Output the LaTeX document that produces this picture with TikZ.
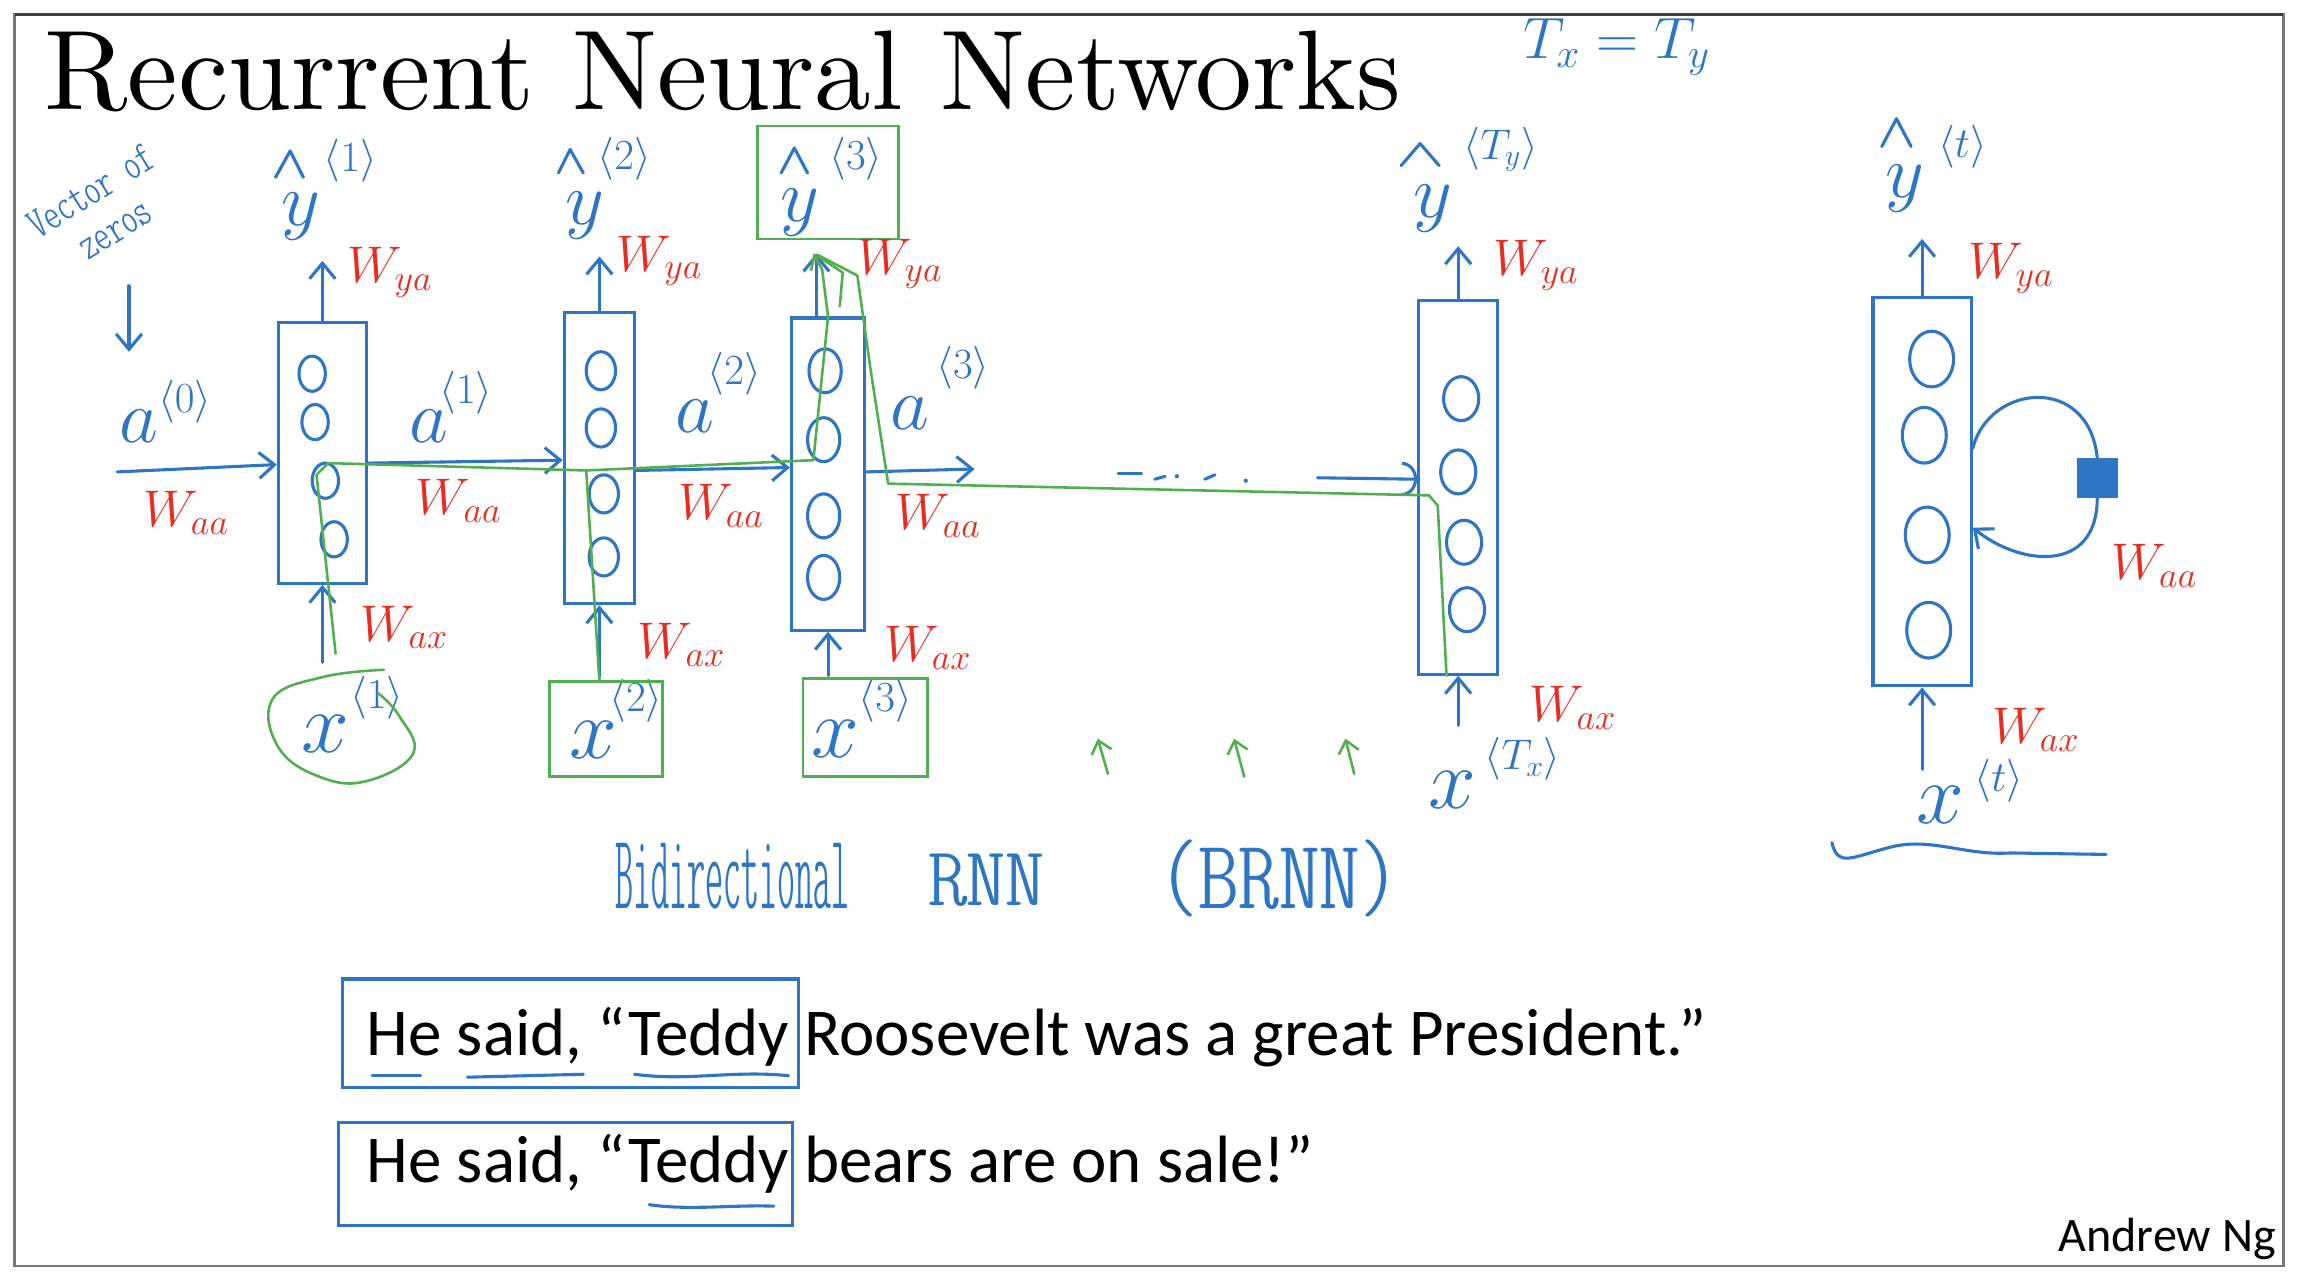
\RequirePackage{fix-cm}
\documentclass[tikz,border=0pt]{standalone}
\usepackage{fontspec}
\usepackage{graphicx}
\usetikzlibrary{arrows.meta}
\newfontfamily\calibri{Carlito}
\newfontfamily\lightfont{lmmonoltcond10-regular}[Extension=.otf]
\newfontfamily\titlefont{lmroman10-regular}[Extension=.otf]
\definecolor{hb}{RGB}{46,117,196}
\definecolor{hr}{RGB}{232,44,32}
\definecolor{hg}{RGB}{80,176,80}
\definecolor{fr}{RGB}{120,120,120}
\newcommand\BaseM{\fontsize{44}{46}\selectfont}
\newcommand\BaseX{\fontsize{50}{52}\selectfont}
\newcommand\SupM{\fontsize{25}{27}\selectfont}
\newcommand\WtM{\fontsize{30}{32}\selectfont}
\begin{document}
\begin{tikzpicture}[x=0.03cm,y=-0.03cm,
  hand/.style={draw=hb, line width=1.8pt, line cap=round, line join=round},
  gline/.style={draw=hg, line width=1.5pt, line cap=round, line join=round},
  arr/.style={hand, -{Straight Barb[length=9pt,width=15pt,line width=1.8pt]}},
  garr/.style={gline, -{Straight Barb[length=7pt,width=12pt,line width=1.5pt]}},
  cell/.style={draw=hb, line width=1.8pt, inner sep=0pt, rectangle},
  gbox/.style={draw=hg, line width=1.5pt, inner sep=0pt, rectangle},
  base/.style={text=hb, inner sep=0pt, font=\BaseM},
  basex/.style={text=hb, inner sep=0pt, font=\BaseX},
  sup/.style={text=hb, inner sep=0pt, font=\SupM},
  wlbl/.style={text=hr, inner sep=0pt, font=\WtM},
  dot/.style={fill=hb, circle, inner sep=0pt, minimum size=2.5pt}]
\useasboundingbox (0,0) rectangle (1568,874);
\fill[white] (0,0) rectangle (1568,874);
% frame
\draw[fr, line width=1.4pt] (10,10) rectangle (1558,864);
\draw[black!75, line width=2pt] (10,10) -- (1558,10);
% title
\node[anchor=base west, inner sep=0pt, font=\titlefont\fontsize{66}{70}\selectfont] (title) at (30,75) {Recurrent Neural Networks};
\node[text=hb, inner sep=0pt, font=\fontsize{34}{36}\selectfont] (txty) at (1103,32) {$T_x = T_y$};
% vector of zeros
\node[text=hb, inner sep=0pt, rotate=32, align=center, font=\lightfont\fontsize{26}{26}\selectfont] (vz) at (70,143) {Vector of\\zeros};
\coordinate (vzs) at (88,195);
\coordinate (vze) at (88,240);
\draw[arr] (vzs) -- (vze);
% cells
\node[cell, minimum width=60*0.03cm, minimum height=178*0.03cm] (c1) at (220,309) {};
\node[cell, minimum width=48*0.03cm, minimum height=199*0.03cm] (c2) at (409,312.5) {};
\node[cell, minimum width=50*0.03cm, minimum height=213*0.03cm] (c3) at (565,323.5) {};
\node[cell, minimum width=54*0.03cm, minimum height=255*0.03cm] (cT) at (995,332.5) {};
\node[cell, minimum width=67*0.03cm, minimum height=265*0.03cm] (ct) at (1311.5,335.5) {};
% units inside cells
\foreach \p in {(213,255),(215,288),(222,328),(228,368)}
  \draw[hand] \p ellipse [x radius=0.27cm, y radius=0.36cm];
\foreach \p in {(410,253),(410,292),(412,337),(412,380)}
  \draw[hand] \p ellipse [x radius=0.3cm, y radius=0.39cm];
\foreach \p in {(563,253),(562,300),(562,352),(562,394)}
  \draw[hand] \p ellipse [x radius=0.33cm, y radius=0.45cm];
\foreach \p in {(997,272),(995,322),(999,370),(1001,416)}
  \draw[hand] \p ellipse [x radius=0.36cm, y radius=0.45cm];
\foreach \p in {(1318,245),(1313,297),(1315,365),(1316,430)}
  \draw[hand] \p ellipse [x radius=0.45cm, y radius=0.57cm];
% outputs y-hat
\node[gbox, minimum width=96*0.03cm, minimum height=77*0.03cm] (gb3) at (565,124.5) {};
\node[base] (y1) at (205,148) {$y$};
\node[sup] (y1s) at (239,110) {$\langle 1\rangle$};
\draw[hand] (188,121) -- (198,103) -- (207,121);
\node[base] (y2) at (399,147) {$y$};
\node[sup] (y2s) at (426,108) {$\langle 2\rangle$};
\draw[hand] (381,118) -- (389,102) -- (398,118);
\node[base] (y3) at (546,145) {$y$};
\node[sup] (y3s) at (584,108) {$\langle 3\rangle$};
\draw[hand] (533,118) -- (542,101) -- (551,118);
\node[base] (yT) at (978,142) {$y$};
\node[sup] (yTs) at (1024,102) {$\langle T_y\rangle$};
\draw[hand] (956,113) -- (969,98) -- (982,113);
\node[base] (yt) at (1300,129) {$y$};
\node[sup] (yts) at (1339,100) {$\langle t\rangle$};
\draw[hand] (1284,100) -- (1294,81) -- (1304,100);
\draw[arr] (c1.north) -- (c1.north |- 0,178);
\draw[arr] (c2.north) -- (c2.north |- 0,175);
\draw[arr] (c3.north -| 557,0) -- (557,173);
\draw[arr] (cT.north) -- (cT.north |- 0,168);
\draw[arr] (ct.north) -- (ct.north |- 0,163);
\node[wlbl] (wy1) at (266,186) {$W_{ya}$};
\node[wlbl] (wy2) at (450,178) {$W_{ya}$};
\node[wlbl] (wy3) at (614,180) {$W_{ya}$};
\node[wlbl] (wyT) at (1048,181) {$W_{ya}$};
\node[wlbl] (wyt) at (1372,183) {$W_{ya}$};
% activations
\coordinate (a0s) at (80,322);
\coordinate (a3e) at (665,320);
\draw[arr] (a0s) -- (c1.west |- 0,317);
\draw[arr] (c1.east |- 0,316) -- (c2.west |- 0,314);
\draw[arr] (c2.east |- 0,321) -- (c3.west |- 0,319);
\draw[arr] (c3.east |- 0,322) -- (a3e);
\node[base] (a0) at (95,291) {$a$};
\node[sup] (a0t) at (126,274) {$\langle 0\rangle$};
\node[base] (a1) at (293,291) {$a$};
\node[sup] (a1t) at (318,268) {$\langle 1\rangle$};
\node[base] (a2) at (474,284) {$a$};
\node[sup] (a2t) at (501,255) {$\langle 2\rangle$};
\node[base] (a3) at (621,282) {$a$};
\node[sup] (a3t) at (657,251) {$\langle 3\rangle$};
\node[wlbl] (wa0) at (127,350) {$W_{aa}$};
\node[wlbl] (wa1) at (313,342) {$W_{aa}$};
\node[wlbl] (wa2) at (492,345) {$W_{aa}$};
\node[wlbl] (wa3) at (640,352) {$W_{aa}$};
% dots
\draw[hand] (763,323) -- (779,323);
\draw[hand] (788,327) -- (795,325);
\node[dot] (d1) at (803,325) {};
\draw[hand] (822,327) -- (829,324);
\node[dot] (d2) at (850,328) {};
\coordinate (dots) at (899,326);
\draw[hand, -{Arc Barb[length=9pt,width=20pt,line width=1.8pt]}] (dots) -- (cT.west |- 0,327);
% inputs
\node[basex] (x1) at (222,501) {$x$};
\node[sup] (x1s) at (257,476) {$\langle 1\rangle$};
\node[basex] (x2) at (405,505) {$x$};
\node[sup] (x2s) at (434,478) {$\langle 2\rangle$};
\node[basex] (x3) at (570,504) {$x$};
\node[sup] (x3s) at (604,478) {$\langle 3\rangle$};
\node[basex] (xT) at (991,539) {$x$};
\node[sup] (xTs) at (1039,518) {$\langle T_x\rangle$};
\node[basex] (xt) at (1324,549) {$x$};
\node[sup] (xts) at (1364,533) {$\langle t\rangle$};
\draw[arr] (c1.south |- 0,452) -- (c1.south);
\draw[arr] (c2.south |- 0,462) -- (c2.south);
\draw[arr] (c3.south |- 0,461) -- (c3.south);
\draw[arr] (cT.south |- 0,495) -- (cT.south);
\draw[arr] (ct.south |- 0,525) -- (ct.south);
\node[wlbl] (wx1) at (276,428) {$W_{ax}$};
\node[wlbl] (wx2) at (465,440) {$W_{ax}$};
\node[wlbl] (wx3) at (633,442) {$W_{ax}$};
\node[wlbl] (wxT) at (1073,483) {$W_{ax}$};
\node[wlbl] (wxt) at (1389,498) {$W_{ax}$};
% rolled loop
\node[fill=hb, draw=hb, inner sep=0pt, minimum size=27*0.03cm] (sq) at (1431,326) {};
\draw[hand] (ct.east |- 0,306) .. controls (1357,262) and (1425,255) .. (sq.north);
\draw[arr] (sq.south) .. controls (1431,392) and (1378,386) .. (ct.east |- 0,360);
\node[wlbl] (wat) at (1470,386) {$W_{aa}$};
\draw[hand] (1250,575) .. controls (1254,592) and (1263,585) .. (1290,578) .. controls (1318,571) and (1340,584) .. (1372,582) -- (1437,583);
% green boxes
\node[gbox, minimum width=77*0.03cm, minimum height=65*0.03cm] (gb2) at (413.5,497.5) {};
\node[gbox, minimum width=85*0.03cm, minimum height=67*0.03cm] (gb3x) at (590.5,496.5) {};
\draw[gline] plot[smooth, tension=0.7] coordinates {(262,457) (220,462) (186,477) (190,510) (218,530) (250,533) (282,514) (272,488) (258,473)};
% green paths
\draw[gline] (229,446) -- (216,324) -- (224,316) -- (400,321) -- (555,314) -- (565,216) -- (561,184);
\draw[garr] (561,184) -- (555,173);
\draw[gline] (400,321) -- (409,465);
\draw[gline] (cT.south -| 987,0) -- (981,345) -- (975,338) -- (606,330) -- (594,252) -- (585,188) -- (558,174);
\draw[gline] (573,209) -- (575,186) -- (557,174);
% small green arrows
\draw[garr] (756,528) -- (749,504);
\draw[garr] (849,530) -- (842,504);
\draw[garr] (924,528) -- (918,504);
% bidirectional text
\node[text=hb, inner sep=0pt, anchor=base west, font=\lightfont] (bi) at (420,620) {\resizebox{136pt}{38pt}{Bidirectional}};
\node[text=hb, inner sep=0pt, anchor=base west, font=\lightfont] (rnn) at (633,618) {\resizebox{68pt}{30pt}{RNN}};
\node[text=hb, inner sep=0pt, anchor=base west, font=\lightfont] (brnn) at (790,620) {\resizebox{141pt}{40pt}{(BRNN)}};
% sentences
\node[anchor=base west, inner sep=0pt, font=\calibri\fontsize{39}{42}\selectfont] (s1) at (250,720) {He said, “Teddy Roosevelt was a great President.”};
\node[anchor=base west, inner sep=0pt, font=\calibri\fontsize{39}{42}\selectfont] (s2) at (250,807) {He said, “Teddy bears are on sale!”};
\node[draw=hb, line width=1.8pt, inner sep=0pt, minimum width=311*0.03cm, minimum height=74*0.03cm] (b1) at (389.5,705) {};
\node[draw=hb, line width=1.8pt, inner sep=0pt, minimum width=310*0.03cm, minimum height=70*0.03cm] (b2) at (386,801) {};
\draw[hand] (254,734) -- (287,734);
\draw[hand] (319,735) -- (398,733);
\draw[hand] (433,733) .. controls (470,738) and (500,730) .. (538,734);
\draw[hand] (443,822) .. controls (470,826) and (500,822) .. (528,823);
\node[anchor=base east, inner sep=0pt, font=\calibri\fontsize{28}{30}\selectfont] (ng) at (1553,854) {Andrew Ng};
\end{tikzpicture}
\end{document}
